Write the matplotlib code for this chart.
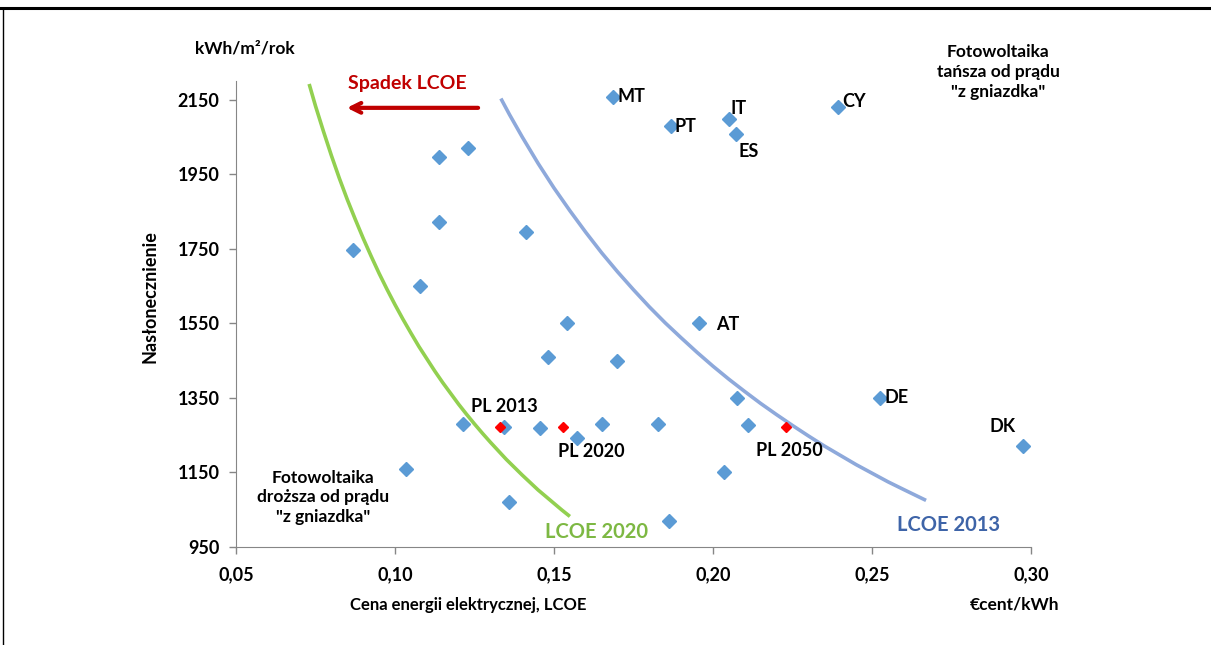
import matplotlib.pyplot as plt
from matplotlib.lines import Line2D

plt.rcParams['font.family'] = ['Lato', 'DejaVu Sans']
plt.rcParams['font.weight'] = 'bold'

# kraje (niebieskie punkty): cena LCOE, naslonecznienie
kraje_x = [0.0868, 0.1138, 0.123, 0.1138, 0.1412, 0.1079, 0.1686, 0.1868, 0.205,
           0.2072, 0.2393, 0.1541, 0.1481, 0.1698, 0.1214, 0.1343, 0.1456, 0.1572,
           0.1651, 0.1035, 0.1358, 0.1956, 0.2525, 0.2975, 0.2075, 0.211, 0.1827,
           0.2035, 0.1862]
kraje_y = [1748, 1997, 2019, 1823, 1796, 1649, 2158, 2078, 2099,
           2059, 2129, 1550, 1459, 1448, 1279, 1271, 1269, 1242,
           1279, 1159, 1070, 1550, 1350, 1220, 1350, 1277, 1280,
           1150, 1020]

# Polska 2013, 2020, 2050
pl_x = [0.133, 0.1528, 0.223]
pl_y = [1271, 1271, 1271]

# krzywe LCOE
lcoe2020_x = [0.073, 0.075, 0.0775, 0.080, 0.0825, 0.085, 0.0875, 0.090, 0.0925,
              0.095, 0.0975, 0.100, 0.1025, 0.105, 0.1075, 0.110, 0.1125, 0.115,
              0.1175, 0.120, 0.1225, 0.125, 0.1275, 0.130, 0.1325, 0.135, 0.1375,
              0.140, 0.1425, 0.145, 0.1475, 0.150, 0.1525, 0.155]
lcoe2020_y = [2192, 2133, 2065, 2000, 1939, 1882, 1829, 1778, 1730,
              1684, 1641, 1600, 1561, 1524, 1488, 1455, 1422, 1391,
              1362, 1333, 1306, 1280, 1255, 1231, 1208, 1185, 1164,
              1143, 1123, 1103, 1085, 1067, 1049, 1032]
lcoe2013_x = [0.1333, 0.136, 0.140, 0.145, 0.150, 0.155, 0.160, 0.165, 0.170,
              0.175, 0.180, 0.185, 0.190, 0.195, 0.200, 0.205, 0.210, 0.215,
              0.220, 0.225, 0.230, 0.235, 0.240, 0.245, 0.250, 0.255, 0.260,
              0.267]
lcoe2013_y = [2153, 2110, 2050, 1979, 1913, 1852, 1794, 1739, 1688,
              1640, 1594, 1551, 1511, 1472, 1435, 1400, 1367, 1335,
              1305, 1276, 1248, 1221, 1196, 1171, 1148, 1125, 1104,
              1075]

x_ticks = [0.05, 0.10, 0.15, 0.20, 0.25, 0.30]
y_ticks = [950, 1150, 1350, 1550, 1750, 1950, 2150]

fig = plt.figure(figsize=(12.11, 6.45), dpi=100)
ax = fig.add_axes([236/1211, 1 - 547/645, (1031-236)/1211, (547-81)/645])

ax.plot(lcoe2020_x, lcoe2020_y, color='#92D050', lw=2.6, solid_capstyle='butt', zorder=2)
ax.plot(lcoe2013_x, lcoe2013_y, color='#8EA9DB', lw=2.6, solid_capstyle='butt', zorder=2)
ax.plot(kraje_x, kraje_y, 'D', color='#5B9BD5', ms=7, ls='none', zorder=3)
ax.plot(pl_x, pl_y, 'D', color='#FF0000', ms=5.5, ls='none', zorder=4)

ax.set_xlim(0.05, 0.30)
ax.set_ylim(950, 2200)
ax.set_xticks(x_ticks)
ax.set_xticklabels([f'{v:.2f}'.replace('.', ',') for v in x_ticks], fontweight='bold')
ax.set_yticks(y_ticks)
ax.set_yticklabels([str(v) for v in y_ticks], fontweight='bold')
ax.tick_params(colors='#868686', labelcolor='black', labelsize=13, length=5, width=1)
ax.tick_params(axis='x', pad=9)
ax.tick_params(axis='y', pad=7)
for s in ['top', 'right']:
    ax.spines[s].set_visible(False)
for s in ['left', 'bottom']:
    ax.spines[s].set_color('#868686')

# etykiety krajow
fs = 13
ax.text(0.1700, 2158, 'MT', fontsize=fs, va='center', ha='left', fontweight='bold')
ax.text(0.1880, 2077, 'PT', fontsize=fs, va='center', ha='left', fontweight='bold')
ax.text(0.2055, 2127, 'IT', fontsize=fs, va='center', ha='left', fontweight='bold')
ax.text(0.2080, 2011, 'ES', fontsize=fs, va='center', ha='left', fontweight='bold')
ax.text(0.2405, 2145, 'CY', fontsize=fs, va='center', ha='left', fontweight='bold')
ax.text(0.2010, 1548, 'AT', fontsize=fs, va='center', ha='left', fontweight='bold')
ax.text(0.2540, 1350, 'DE', fontsize=fs, va='center', ha='left', fontweight='bold')
ax.text(0.2912, 1272, 'DK', fontsize=fs, va='center', ha='center', fontweight='bold')
ax.text(0.1343, 1328, 'PL 2013', fontsize=fs, va='center', ha='center', fontweight='bold')
ax.text(0.1617, 1207, 'PL 2020', fontsize=fs, va='center', ha='center', fontweight='bold')
ax.text(0.2240, 1210, 'PL 2050', fontsize=fs, va='center', ha='center', fontweight='bold')

ax.text(0.1635, 990, 'LCOE 2020', fontsize=14.5, va='center', ha='center',
        color='#7DB843', fontweight='bold')
ax.text(0.2740, 1008, 'LCOE 2013', fontsize=14.5, va='center', ha='center',
        color='#3E64A8', fontweight='bold')

ax.text(0.0774, 1083, 'Fotowoltaika\ndroższa od prądu\n"z gniazdka"', fontsize=12.5,
        va='center', ha='center', linespacing=1.3, fontweight='bold')

ax.text(0.1040, 2193, 'Spadek LCOE', fontsize=14, va='center', ha='center',
        color='#C00000', fontweight='bold')
ax.annotate('', xy=(0.0840, 2128), xytext=(0.1270, 2128),
            arrowprops=dict(arrowstyle='->,head_length=0.7,head_width=0.35',
                            color='#C00000', lw=3))

# opisy osi i napisy poza obszarem wykresu
fig.text(998/1211, 1 - 72/645, 'Fotowoltaika\ntańsza od prądu\n"z gniazdka"',
         fontsize=12.5, ha='center', va='center', linespacing=1.3, fontweight='bold')
fig.text(245/1211, 1 - 49/645, 'kWh/m²/rok', fontsize=12.5, ha='center', va='center',
         fontweight='bold')
fig.text(150/1211, 1 - 297/645, 'Nasłonecznienie', fontsize=13, ha='center',
         va='center', rotation=90, fontweight='bold')
fig.text(468/1211, 1 - 605/645, 'Cena energii elektrycznej, LCOE', fontsize=12,
         ha='center', va='center', fontweight='bold')
fig.text(1015/1211, 1 - 605/645, '€cent/kWh', fontsize=12.5, ha='center', va='center',
         fontweight='bold')

# ramka
fig.add_artist(Line2D([0, 1], [1 - 8/645, 1 - 8/645], color='black', lw=2.2))
fig.add_artist(Line2D([3/1211, 3/1211], [0, 1 - 8/645], color='black', lw=1))

plt.savefig('out.png')
